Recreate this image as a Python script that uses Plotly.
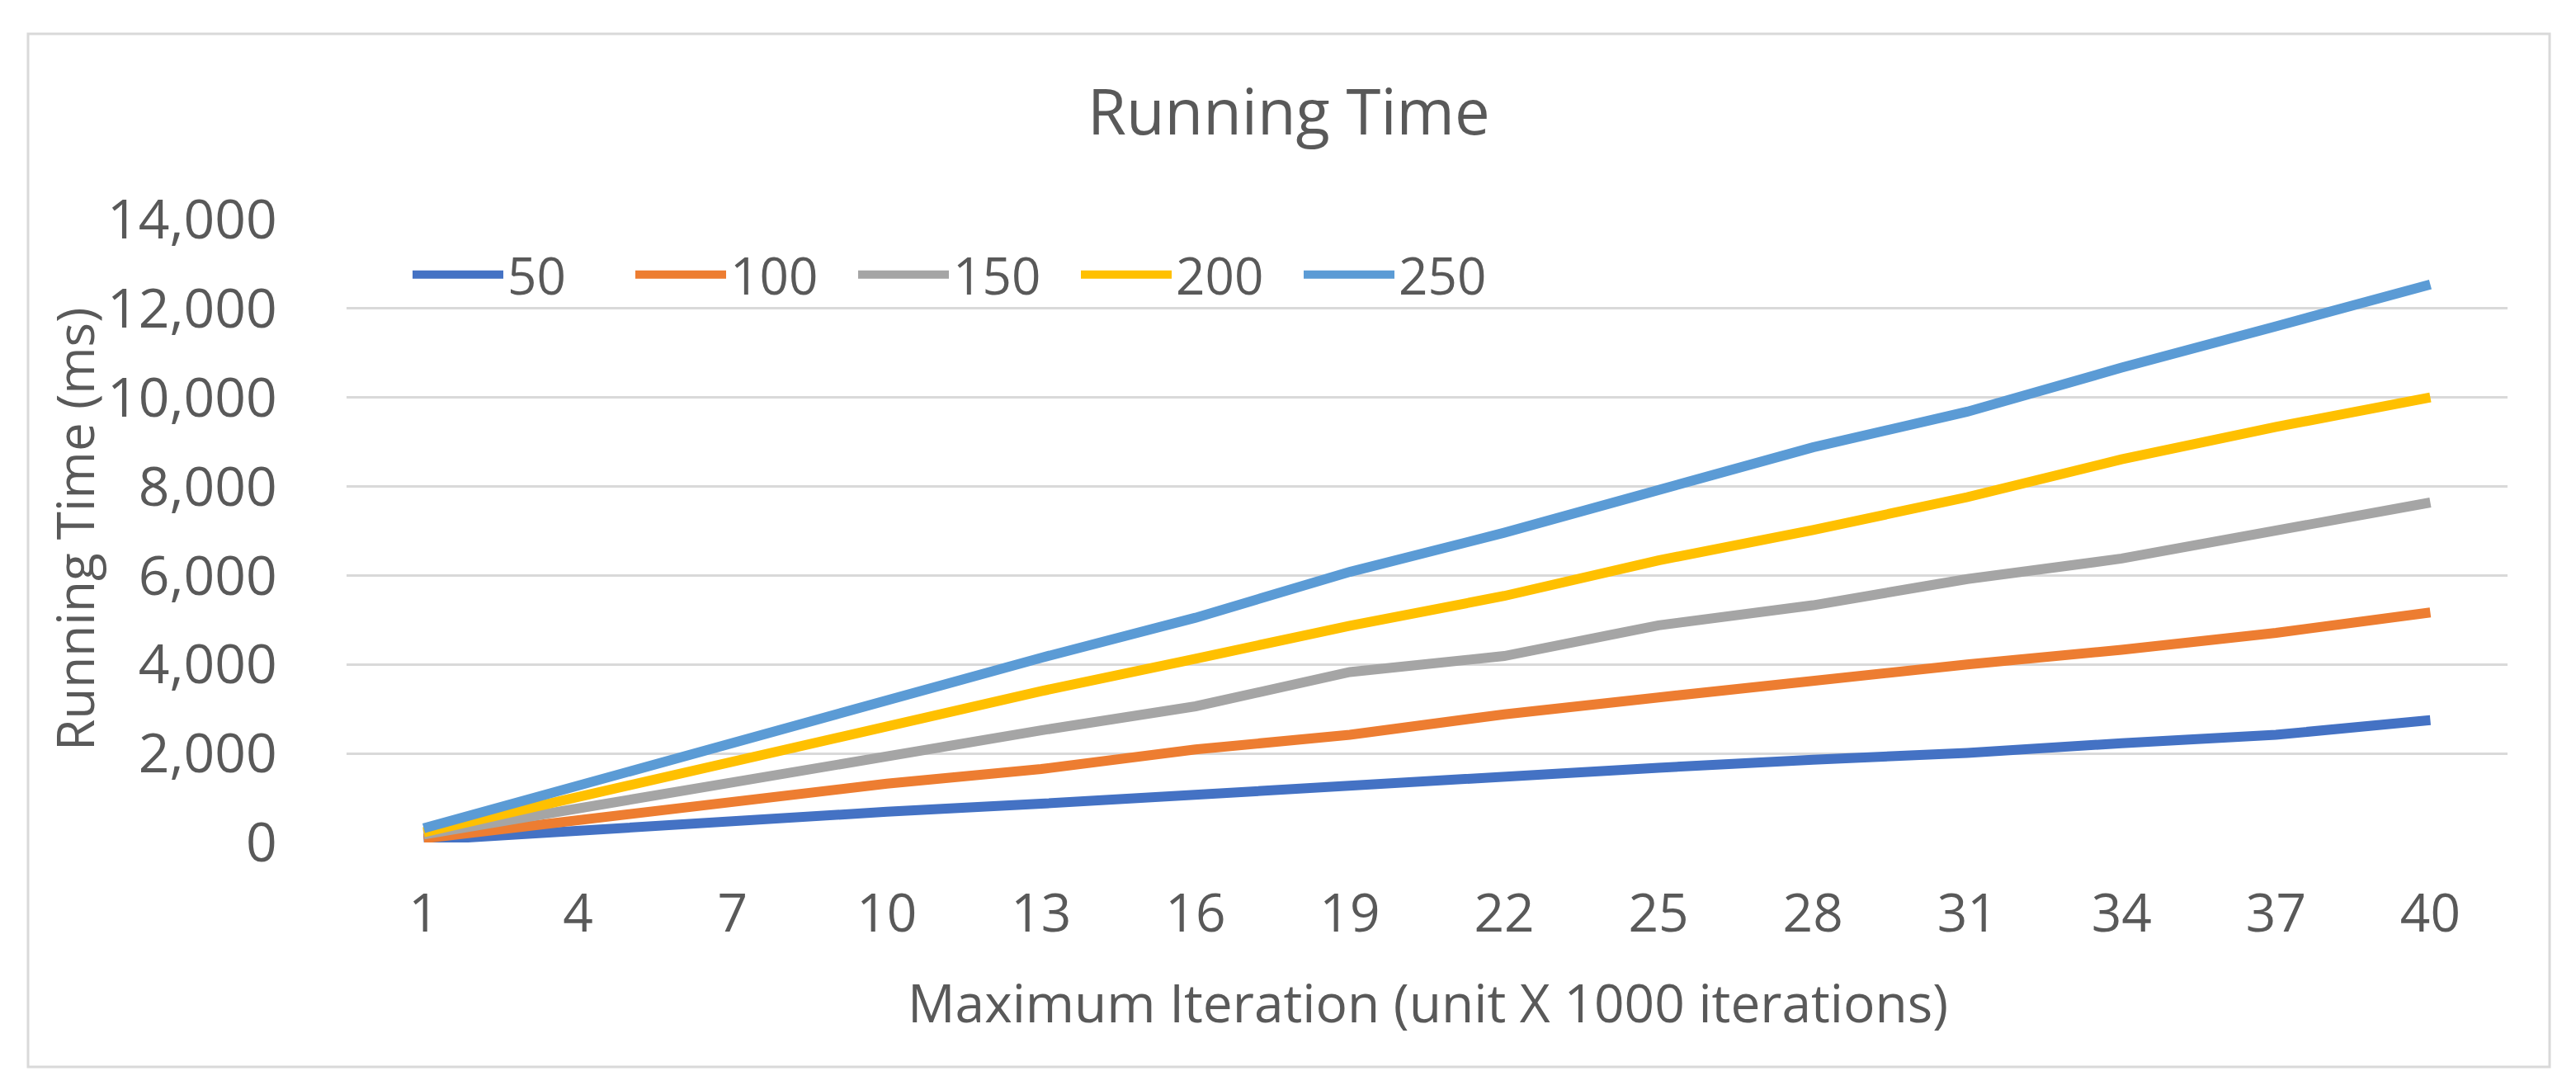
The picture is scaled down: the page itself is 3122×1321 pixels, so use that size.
import plotly.graph_objects as go

iterations = [1, 4, 7, 10, 13, 16, 19, 22, 25, 28, 31, 34, 37, 40]
series_names = ["50", "100", "150", "200", "250"]
s50 = [50, 270, 480, 690, 870, 1080, 1290, 1520, 1680, 1860, 2010, 2230, 2420, 2750]
s100 = [90, 500, 920, 1320, 1650, 2090, 2420, 2880, 3260, 3640, 4000, 4330, 4710, 5170]
s150 = [180, 770, 1360, 1950, 2520, 3060, 3830, 4190, 4880, 5330, 5920, 6380, 7020, 7640]
s200 = [230, 1020, 1810, 2610, 3400, 4130, 4870, 5540, 6340, 7020, 7760, 8610, 9340, 10000]
s250 = [320, 1290, 2260, 3230, 4150, 5050, 6080, 6960, 7930, 8880, 9680, 10670, 11600, 12540]
y_ticks = [0, 2000, 4000, 6000, 8000, 10000, 12000, 14000]

colors = ["#4472C4", "#ED7D31", "#A5A5A5", "#FFC000", "#5B9BD5"]
values = [s50, s100, s150, s200, s250]

OFF = 8  # page body margin
W, H = 3122 - 2 * OFF, 1321 - 2 * OFF
# target plot area in screen pixels: x 420..3039, y 266..1021
ML = 420 - OFF
MT = 266 - OFF
MR = W - (3039 - OFF)
MB = H - (1021 - OFF)
PW = W - ML - MR
PH = H - MT - MB
FONT = "Open Sans"
TXT = "#595959"


def px(x):
    return (x - OFF - ML) / PW


def py(y):
    return 1 - (y - OFF - MT) / PH


fig = go.Figure()
x_cat = [str(v) for v in iterations]
for name, vals, col in zip(series_names, values, colors):
    fig.add_trace(go.Scatter(
        x=x_cat, y=vals, name=name, mode="lines",
        line=dict(color=col, width=12),
    ))

fig.update_layout(
    width=W, height=H,
    margin=dict(l=ML, r=MR, t=MT, b=MB, autoexpand=False),
    paper_bgcolor="white", plot_bgcolor="white",
    font=dict(family=FONT, color=TXT, size=64),
    showlegend=True,
    legend=dict(
        orientation="h", x=px(495), xanchor="left",
        y=py(333), yanchor="middle",
        font=dict(size=62, color=TXT, family=FONT),
        entrywidth=145, entrywidthmode="pixels",
        bgcolor="rgba(0,0,0,0)", itemwidth=110,
    ),
    xaxis=dict(
        type="category", range=[-0.5, len(iterations) - 0.5],
        showgrid=False, zeroline=False, showline=False,
        ticks="outside", ticklen=30, tickcolor="rgba(0,0,0,0)",
        tickfont=dict(size=64, color=TXT, family=FONT),
        fixedrange=True,
    ),
    yaxis=dict(
        range=[0, 14000], tickvals=y_ticks, tickformat=",d",
        showgrid=True, gridcolor="#D9D9D9", gridwidth=3,
        zeroline=False, showline=False,
        ticks="outside", ticklen=70, tickcolor="rgba(0,0,0,0)",
        tickfont=dict(size=66, color=TXT, family=FONT),
    ),
    shapes=[dict(
        type="rect", xref="paper", yref="paper",
        x0=px(34), x1=px(3090), y0=py(1293), y1=py(41),
        line=dict(color="#D9D9D9", width=3), layer="below",
    )],
    annotations=[
        dict(text="Running Time", xref="paper", yref="paper",
             x=px(1562), y=py(134),
             xanchor="center", yanchor="middle", showarrow=False,
             font=dict(size=76, color=TXT, family=FONT)),
        dict(text="Running Time (ms)", xref="paper", yref="paper",
             x=px(90), y=py(642),
             xanchor="center", yanchor="middle", showarrow=False, textangle=-90,
             font=dict(size=62, color=TXT, family=FONT)),
        dict(text="Maximum Iteration (unit X 1000 iterations)", xref="paper", yref="paper",
             x=px(1730), y=py(1214),
             xanchor="center", yanchor="middle", showarrow=False,
             font=dict(size=64, color=TXT, family=FONT)),
    ],
)

fig.write_html("out.html")
